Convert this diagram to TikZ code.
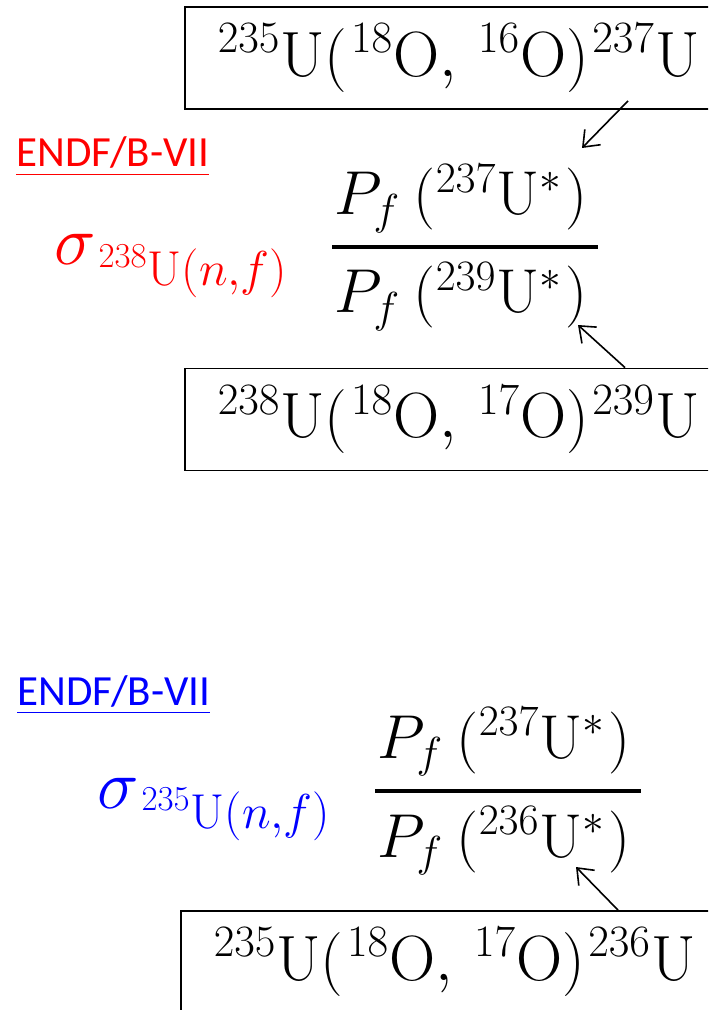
\RequirePackage{fix-cm}
\documentclass[tikz,border=0pt]{standalone}
\usepackage{amsmath}
\usepackage{fontspec}
\newfontfamily\calibri{Carlito}
\usetikzlibrary{arrows.meta}

\definecolor{endf red}{RGB}{255,0,0}
\definecolor{endf blue}{RGB}{0,0,255}

\newcommand{\reac}[3]{${}^{#1}\mathrm{U}(\mkern1mu{}^{18}\mathrm{O},\,{}^{#2}\mathrm{O})\mkern1mu{}^{#3}\mathrm{U}$}
\newcommand{\prob}[1]{$P_f\mkern4mu({}^{#1}\mathrm{U}^{*}\mkern1mu)$}
\newcommand{\xsec}[1]{$\sigma$\raisebox{-10pt}{$\scriptstyle\mkern1mu{}^{#1}\mathrm{U}(n,f)$}}

\tikzstyle{reaction}=[draw=black, line width=0.9pt, anchor=west, minimum height=51pt, text width=255pt, align=left, inner xsep=16.5pt, font=\fontsize{32}{36}\selectfont]
\tikzstyle{ratio}=[anchor=base west, inner sep=0pt, font=\fontsize{31}{36}\selectfont]
\tikzstyle{library}=[anchor=base west, inner sep=0pt, font=\calibri\fontsize{21.5}{26}\selectfont]
\tikzstyle{cross}=[anchor=base west, inner sep=0pt, font=\fontsize{35}{40}\selectfont]
\tikzstyle{fracbar}=[line width=2pt]
\tikzstyle{feed}=[line width=0.8pt, -{Straight Barb[length=7pt,width=11pt]}]

\begin{document}
\begin{tikzpicture}[x=0.5pt, y=-0.5pt]
					\useasboundingbox (0,0) rectangle (708,1010);
					\clip (0,0) rectangle (708,1010);

					% Upper ratio: 238U(n,f)
					\node[reaction] (box1) at (184,58) {\reac{235}{16}{237}};
					\node[reaction] (box2) at (184,419.5) {\reac{238}{17}{239}};

					\node[library, text=endf red] (lib1) at (16,167) {\underline{ENDF/B-VII}};
					\node[cross, text=endf red] (sig1) at (54,265) {\xsec{238}};

					\node[ratio] (num1) at (334,215) {\prob{237}};
					\node[ratio] (den1) at (334,313) {\prob{239}};
					\draw[fracbar] (332,247) -- (598,247);

					\coordinate (tip1) at (582,148);
					\coordinate (tip2) at (578,325);
					\draw[feed] ([xshift=222pt, yshift=4.5pt]box1.south west) -- (tip1);
					\draw[feed] ([xshift=220.5pt]box2.north west) -- (tip2);

					% Lower ratio: 235U(n,f)
					\node[library, text=endf blue] (lib2) at (17,705) {\underline{ENDF/B-VII}};
					\node[cross, text=endf blue] (sig2) at (97,808) {\xsec{235}};

					\node[ratio] (num2) at (377,758) {\prob{237}};
					\node[ratio] (den2) at (377,857) {\prob{236}};
					\draw[fracbar] (375,791) -- (641,791);

					\node[reaction] (box3) at (180,962) {\reac{235}{17}{236}};
					\coordinate (tip3) at (576,867);
					\draw[feed] ([xshift=219pt]box3.north west) -- (tip3);
				\end{tikzpicture}
\end{document}
